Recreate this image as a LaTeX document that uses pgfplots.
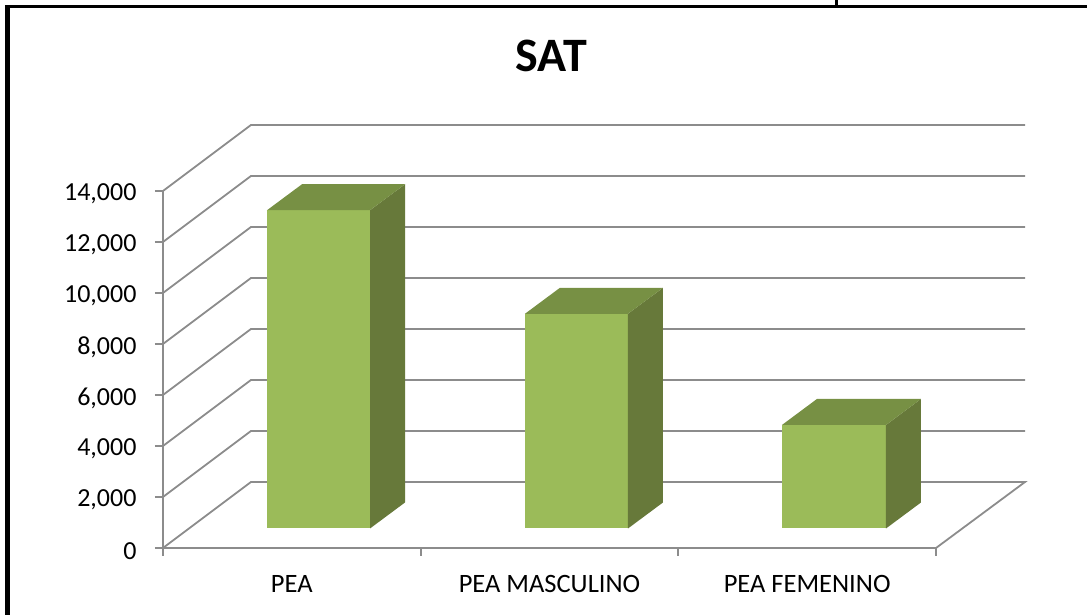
\documentclass[border=0pt]{standalone}
\usepackage{pgfplots}
\pgfplotsset{compat=1.18}
\usepackage{fontspec}
\setmainfont{Carlito}
\definecolor{barfront}{HTML}{9BBB59}
\definecolor{barside}{HTML}{67793A}
\definecolor{bartop}{HTML}{779044}
\definecolor{gridc}{HTML}{8C8C8C}
\begin{document}
\begin{tikzpicture}
\useasboundingbox (-163pt,-67pt) rectangle (924pt,548pt);
\begin{axis}[
  at={(0pt,0pt)}, anchor=south west,
  scale only axis, width=773pt, height=357pt,
  xmin=0, xmax=3, ymin=0, ymax=14000,
  clip=false,
  axis lines=left,
  axis line style={draw=gridc, line width=1.8pt, -},
  every tick/.style={draw=gridc, line width=1.8pt},
  xtick={0.5,1.5,2.5},
  xticklabels={PEA,PEA MASCULINO,PEA FEMENINO},
  minor xtick={0,1,2,3},
  major tick length=8pt,
  minor tick length=8pt,
  major x tick style={draw=none},
  tick align=outside,
  ytick={0,2000,4000,6000,8000,10000,12000,14000},
  /pgf/number format/1000 sep={,},
  /pgf/number format/assume math mode=true,
  scaled y ticks=false,
  y tick label style={font=\fontsize{26}{30}\selectfont, text=black, xshift=-15pt, yshift=-3pt},
  x tick label style={font=\fontsize{26.5}{30}\selectfont, text=black, anchor=base, yshift=-36pt},
  title={\fontsize{48}{54}\selectfont\bfseries SAT},
  title style={at={(0.5025,1)}, anchor=base, yshift=113pt},
]
% grid lines: side wall and back wall
\addplot[gridc, line width=1.8pt] coordinates {(0,0)(0.3415,2588)(3.3454,2588)(3,0)};
\addplot[gridc, line width=1.8pt] coordinates {(0,2000)(0.3415,4588)(3.3454,4588)};
\addplot[gridc, line width=1.8pt] coordinates {(0,4000)(0.3415,6588)(3.3454,6588)};
\addplot[gridc, line width=1.8pt] coordinates {(0,6000)(0.3415,8588)(3.3454,8588)};
\addplot[gridc, line width=1.8pt] coordinates {(0,8000)(0.3415,10588)(3.3454,10588)};
\addplot[gridc, line width=1.8pt] coordinates {(0,10000)(0.3415,12588)(3.3454,12588)};
\addplot[gridc, line width=1.8pt] coordinates {(0,12000)(0.3415,14588)(3.3454,14588)};
\addplot[gridc, line width=1.8pt] coordinates {(0,14000)(0.3415,16588)(3.3454,16588)};
% PEA = 12480
\addplot[draw=none, fill=barfront] coordinates {(0.4036,765)(0.8034,765)(0.8034,13245)(0.4036,13245)};
\addplot[draw=none, fill=barside] coordinates {(0.8034,765)(0.9392,1785)(0.9392,14265)(0.8034,13245)};
\addplot[draw=none, fill=bartop] coordinates {(0.4036,13245)(0.8034,13245)(0.9392,14265)(0.5394,14265)};
% PEA MASCULINO = 8420
\addplot[draw=none, fill=barfront] coordinates {(1.4049,765)(1.8046,765)(1.8046,9185)(1.4049,9185)};
\addplot[draw=none, fill=barside] coordinates {(1.8046,765)(1.9404,1785)(1.9404,10205)(1.8046,9185)};
\addplot[draw=none, fill=bartop] coordinates {(1.4049,9185)(1.8046,9185)(1.9404,10205)(1.5407,10205)};
% PEA FEMENINO = 4060
\addplot[draw=none, fill=barfront] coordinates {(2.4023,765)(2.8059,765)(2.8059,4825)(2.4023,4825)};
\addplot[draw=none, fill=barside] coordinates {(2.8059,765)(2.9417,1785)(2.9417,5845)(2.8059,4825)};
\addplot[draw=none, fill=bartop] coordinates {(2.4023,4825)(2.8059,4825)(2.9417,5845)(2.5381,5845)};
\end{axis}
% outer frame
\draw[black, line width=5pt] (-155.5pt,-67pt) -- (-155.5pt,543pt);
\draw[black, line width=3pt] (-158pt,541.5pt) -- (924pt,541.5pt);
\draw[black, line width=3pt] (673pt,543pt) -- (673pt,548pt);
\end{tikzpicture}
\end{document}
